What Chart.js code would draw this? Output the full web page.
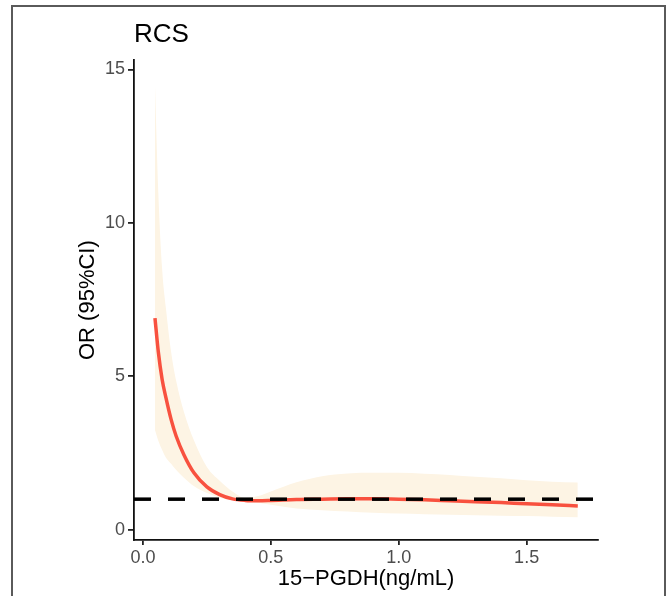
<!DOCTYPE html>
<html>
<head>
<meta charset="utf-8">
<script src="https://cdn.jsdelivr.net/npm/chart.js@4/dist/chart.umd.min.js"></script>
<style>
  html, body { margin: 0; padding: 0; background: #fff; }
  #wrap { position: relative; width: 668px; height: 596px; }
</style>
</head>
<body>
<div id="wrap"><canvas id="rcsChart" width="668" height="596"></canvas></div>
<script>
// 15-PGDH concentration grid (ng/mL)
const pgdh = [0.047, 0.06, 0.075, 0.09, 0.11, 0.13, 0.16, 0.2, 0.25, 0.3, 0.35, 0.4, 0.45, 0.5,
              0.6, 0.7, 0.8, 0.9, 1.0, 1.1, 1.2, 1.3, 1.4, 1.5, 1.6, 1.7];
// odds ratio and 95% CI
const orValues = [6.9, 5.8, 4.9, 4.3, 3.6, 3.05, 2.45, 1.85, 1.4, 1.15, 1.01, 0.96, 0.95, 0.96,
                  0.99, 1.0, 1.01, 1.01, 1.0, 0.98, 0.95, 0.92, 0.89, 0.85, 0.82, 0.78];
const ciUpper = [14.5, 11.0, 8.5, 7.2, 5.8, 4.85, 3.85, 2.9, 2.05, 1.6, 1.25, 1.04, 1.1, 1.25,
                 1.55, 1.75, 1.84, 1.86, 1.86, 1.83, 1.79, 1.73, 1.68, 1.62, 1.57, 1.54];
const ciLower = [3.25, 2.9, 2.6, 2.35, 2.15, 1.95, 1.7, 1.42, 1.2, 1.05, 0.97, 0.93, 0.88, 0.82,
                 0.7, 0.64, 0.6, 0.56, 0.53, 0.51, 0.49, 0.48, 0.46, 0.45, 0.43, 0.41];
const refOR = 1;

const xTicks = [0, 0.5, 1.0, 1.5];
const yTicks = [0, 5, 10, 15];
const xRange = [-0.035, 1.779];
const yRange = [-0.33, 15.3];

const pts = (ys) => pgdh.map((x, i) => ({ x: x, y: ys[i] }));
const fontFamily = "'Liberation Sans', Arial, sans-serif";

// grey frame around the figure
const framePlugin = {
    id: 'frame',
    afterDraw(chart) {
        const ctx = chart.ctx;
        ctx.save();
        ctx.strokeStyle = '#5a5a5a';
        ctx.lineWidth = 2;
        ctx.strokeRect(12, 6, 653, 700);
        ctx.restore();
    }
};

const ctx = document.getElementById('rcsChart').getContext('2d');
new Chart(ctx, {
    type: 'line',
    data: {
        datasets: [
            {
                label: 'lower',
                data: pts(ciLower),
                borderWidth: 0,
                pointRadius: 0,
                fill: false,
                cubicInterpolationMode: 'monotone',
                order: 3
            },
            {
                label: 'upper',
                data: pts(ciUpper),
                borderWidth: 0,
                pointRadius: 0,
                backgroundColor: 'rgb(253,244,228)',
                fill: '-1',
                cubicInterpolationMode: 'monotone',
                order: 2
            },
            {
                label: 'OR',
                data: pts(orValues),
                borderColor: '#F8513F',
                borderWidth: 3.5,
                pointRadius: 0,
                fill: false,
                cubicInterpolationMode: 'monotone',
                order: 1
            },
            {
                label: 'ref',
                data: [{ x: xRange[0], y: refOR }, { x: xRange[1], y: refOR }],
                borderColor: '#000',
                borderWidth: 3.5,
                borderDash: [17, 17],
                pointRadius: 0,
                fill: false,
                order: 0
            }
        ]
    },
    options: {
        responsive: false,
        animation: false,
        layout: { padding: { left: 0, right: 70, top: 0, bottom: 0 } },
        plugins: {
            legend: { display: false },
            tooltip: { enabled: false },
            title: {
                display: true,
                text: 'RCS',
                align: 'start',
                fullSize: false,
                color: '#000',
                font: { family: fontFamily, size: 26, weight: 'normal' },
                padding: { top: 19, bottom: 10 }
            }
        },
        scales: {
            x: {
                type: 'linear',
                min: xRange[0],
                max: xRange[1],
                afterBuildTicks: (scale) => { scale.ticks = xTicks.map(v => ({ value: v })); },
                afterFit: (scale) => { scale.height = 56; },
                ticks: {
                    color: '#4d4d4d',
                    padding: 2,
                    font: { family: fontFamily, size: 18 },
                    callback: (v) => v.toFixed(1)
                },
                grid: {
                    drawOnChartArea: false,
                    drawTicks: true,
                    tickLength: 5,
                    tickColor: '#222',
                    lineWidth: 1.8
                },
                border: { display: true, color: '#111', width: 1.8 },
                title: {
                    display: true,
                    text: '15\u2212PGDH(ng/mL)',
                    color: '#000',
                    font: { family: fontFamily, size: 22 },
                    padding: { top: 0, bottom: 4 }
                }
            },
            y: {
                type: 'linear',
                min: yRange[0],
                max: yRange[1],
                afterBuildTicks: (scale) => { scale.ticks = yTicks.map(v => ({ value: v })); },
                afterFit: (scale) => { scale.width = 134; },
                ticks: {
                    color: '#4d4d4d',
                    padding: 3,
                    font: { family: fontFamily, size: 18 }
                },
                grid: {
                    drawOnChartArea: false,
                    drawTicks: true,
                    tickLength: 6,
                    tickColor: '#222',
                    lineWidth: 1.8
                },
                border: { display: true, color: '#111', width: 1.8 },
                title: {
                    display: true,
                    text: 'OR (95%CI)',
                    color: '#000',
                    font: { family: fontFamily, size: 22 },
                    padding: { top: 75, bottom: 0 }
                }
            }
        }
    },
    plugins: [framePlugin]
});
</script>
</body>
</html>
